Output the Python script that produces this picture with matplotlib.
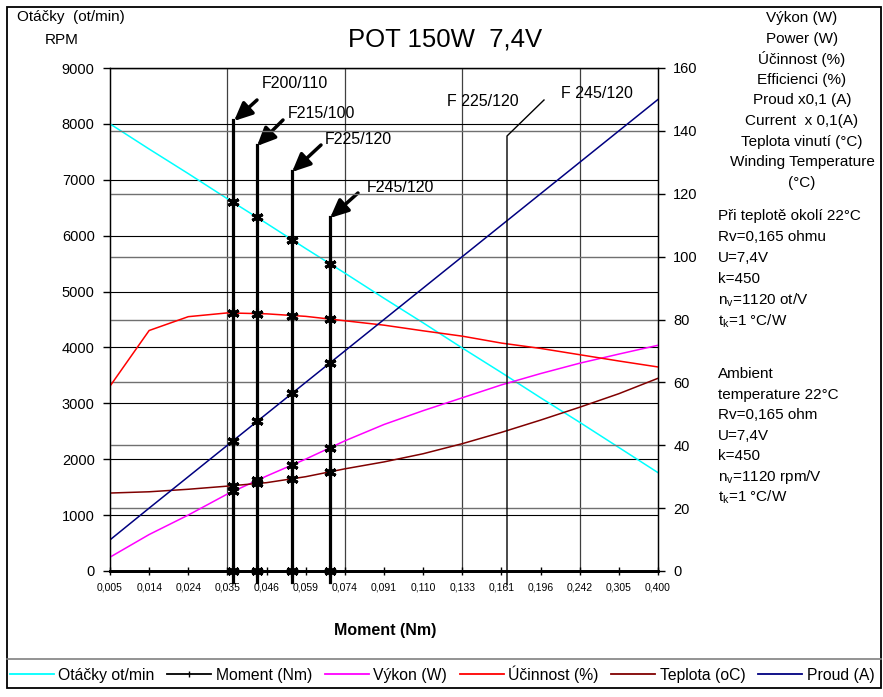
import numpy as np
import matplotlib.pyplot as plt
from matplotlib.lines import Line2D
from matplotlib.patches import Rectangle

plt.rcParams['font.family'] = ['Liberation Sans', 'DejaVu Sans']

# x categories (moment, Nm) - plotted as evenly spaced categories
moment_labels = ['0,005', '0,014', '0,024', '0,035', '0,046', '0,059', '0,074', '0,091',
                 '0,110', '0,133', '0,161', '0,196', '0,242', '0,305', '0,400']

# left axis (ot/min)
otacky = [8000, 7550, 7110, 6660, 6220, 5770, 5330, 4880, 4440, 3990, 3550, 3100, 2660, 2210, 1760]

# right axis
vykon = [4.4, 11.6, 17.8, 24.5, 30.2, 35.6, 41.4, 46.6, 51.0, 55.1, 59.2, 62.8, 66.1, 69.0, 71.8]
ucinnost = [58.8, 76.5, 80.9, 82.1, 81.8, 81.0, 79.6, 78.2, 76.4, 74.7, 72.5, 70.8, 68.8, 66.8, 64.9]
teplota = [24.8, 25.2, 26.0, 27.0, 28.1, 30.0, 32.5, 34.7, 37.3, 40.5, 44.1, 48.0, 52.1, 56.4, 61.3]
proud = [9.9, 20, 30, 40, 50, 60, 70, 80, 90, 100, 110, 120, 130, 140, 150]

# motor moment lines (category position, top of line in right-axis units)
motor_names = ['F200/110', 'F215/100', 'F225/120', 'F245/120']
motor_x = [3.15, 3.76, 4.66, 5.62]
motor_top = [143.5, 135.5, 127.2, 112.6]

W, H = 883, 697


def fp(x, y):
    # pixel position (from top left) -> figure fraction
    return (x / W, 1 - y / H)


fig = plt.figure(figsize=(W / 100, H / 100), dpi=100)
ax = fig.add_axes([110 / W, 1 - 571 / H, 548 / W, 503 / H])
ax2 = ax.twinx()

idx = np.arange(len(moment_labels))

# left axis: grid + speed
ax.set_xlim(0, len(moment_labels) - 1)
ax.set_ylim(0, 9000)
ax.set_yticks(range(0, 9001, 1000))
ax.set_xticks(idx)
ax.set_xticklabels(moment_labels)
ax.grid(axis='y', color='black', lw=0.8)
for gx in range(3, len(moment_labels), 3):
    ax.axvline(gx, color='#404040', lw=0.9, zorder=0.5)
ax.plot(idx, otacky, color='#00FFFF', lw=1.1, zorder=2)

# right axis
ax2.set_ylim(0, 160)
ax2.set_yticks(range(0, 161, 20))
ax2.grid(axis='y', color='#707070', lw=1.0)
ax2.plot(idx, vykon, color='#FF00FF', lw=1.1)
ax2.plot(idx, ucinnost, color='#FF0000', lw=1.1)
ax2.plot(idx, teplota, color='#800000', lw=1.1)
ax2.plot(idx, proud, color='#000080', lw=1.1)

# moment lines with markers where they cross the curves
scale = 160 / 9000
for mx, top in zip(motor_x, motor_top):
    ax2.plot([mx, mx], [-3.5, top], color='black', lw=2.3, zorder=5, clip_on=False)
    ys = [0,
          np.interp(mx, idx, otacky) * scale,
          np.interp(mx, idx, vykon),
          np.interp(mx, idx, ucinnost),
          np.interp(mx, idx, teplota),
          np.interp(mx, idx, proud)]
    ax2.plot([mx] * len(ys), ys, ls='none', marker=(6, 2, 0), ms=8.5, mew=2.2,
             color='black', zorder=6, clip_on=False)

for a in (ax, ax2):
    for s in a.spines.values():
        s.set_color('black')
        s.set_linewidth(0.9)
    a.spines['bottom'].set_linewidth(2)

ax.tick_params(axis='x', direction='inout', length=6, width=1, labelsize=7.5, pad=5)
ax.tick_params(axis='y', direction='out', length=5, width=1, labelsize=10.5, pad=6)
ax2.tick_params(axis='y', direction='out', length=5, width=1, labelsize=10.5, pad=6)

# arrows with motor names
arrows = [((257, 100), (234, 121)), ((283, 120), (257, 146)),
          ((321, 145), (292, 172)), ((358, 193), (330, 218))]
texts = [(262, 83), (288, 113), (325, 140), (367, 187)]
for name, (tail, head), tpos in zip(motor_names, arrows, texts):
    ax.annotate('', xy=fp(*head), xytext=fp(*tail), xycoords='figure fraction',
                textcoords='figure fraction',
                arrowprops=dict(arrowstyle='-|>,head_length=1.1,head_width=0.5',
                                lw=2.5, color='black', shrinkA=0, shrinkB=0))
    fig.text(*fp(*tpos), name, ha='left', va='center', fontsize=11.5)

fig.text(*fp(447, 101), 'F 225/120', ha='left', va='center', fontsize=11.5)
fig.text(*fp(561, 94), 'F 245/120', ha='left', va='center', fontsize=11.5)
px = [544, 507, 507]
py = [100, 136, 585]
fig.add_artist(Line2D([x / W for x in px], [1 - y / H for y in py],
                      color='black', lw=1.0))

# titles and axis texts
fig.text(*fp(445, 40), 'POT 150W  7,4V', ha='center', va='center', fontsize=18.5)
fig.text(*fp(17, 17), 'Otáčky  (ot/min)', ha='left', va='center', fontsize=11)
fig.text(*fp(45, 40), 'RPM', ha='left', va='center', fontsize=11)
fig.text(*fp(385, 630), 'Moment (Nm)', ha='center', va='center', fontsize=11.5,
         fontweight='bold')

right_lines = ['Výkon (W)', 'Power (W)', 'Účinnost (%)', 'Efficienci (%)', 'Proud x0,1 (A)',
               'Current  x 0,1(A)', 'Teplota vinutí (°C)', 'Winding Temperature', '(°C)']
for i, t in enumerate(right_lines):
    fig.text(*fp(802, 18 + i * 20.6), t, ha='center', va='center', fontsize=11)

info_cz = ['Při teplotě okolí 22°C', 'Rv=0,165 ohmu', 'U=7,4V', 'k=450',
           'n$_\\mathregular{v}$=1120 ot/V', 't$_\\mathregular{k}$=1 °C/W']
info_en = ['Ambient', 'temperature 22°C', 'Rv=0,165 ohm', 'U=7,4V', 'k=450',
           'n$_\\mathregular{v}$=1120 rpm/V', 't$_\\mathregular{k}$=1 °C/W']
for i, t in enumerate(info_cz):
    fig.text(*fp(718, 216 + i * 21), t, ha='left', va='center', fontsize=11)
for i, t in enumerate(info_en):
    fig.text(*fp(718, 374 + i * 20.6), t, ha='left', va='center', fontsize=11)

# frame and legend
fig.add_artist(Rectangle(fp(7, 688), 874 / W, 681 / H, transform=fig.transFigure,
                         fill=False, ec='black', lw=1.3))
fig.add_artist(Line2D([7 / W, 881 / W], [1 - 659 / H] * 2, color='#808080', lw=1.2))

handles = [Line2D([], [], color='#00FFFF', lw=1.3),
           Line2D([], [], color='black', lw=1.3, marker='|', ms=5, markevery=[1]),
           Line2D([], [], color='#FF00FF', lw=1.3),
           Line2D([], [], color='#FF0000', lw=1.3),
           Line2D([], [], color='#800000', lw=1.3),
           Line2D([], [], color='#000080', lw=1.3)]
labels = ['Otáčky ot/min', 'Moment (Nm)', 'Výkon (W)', 'Účinnost (%)', 'Teplota (oC)',
          'Proud (A)']
fig.legend(handles, labels, loc='center', bbox_to_anchor=fp(442, 674), ncol=6,
           frameon=False, fontsize=11.3, handlelength=2.8, handletextpad=0.3,
           columnspacing=0.8)

fig.savefig('out.png', dpi=100)
